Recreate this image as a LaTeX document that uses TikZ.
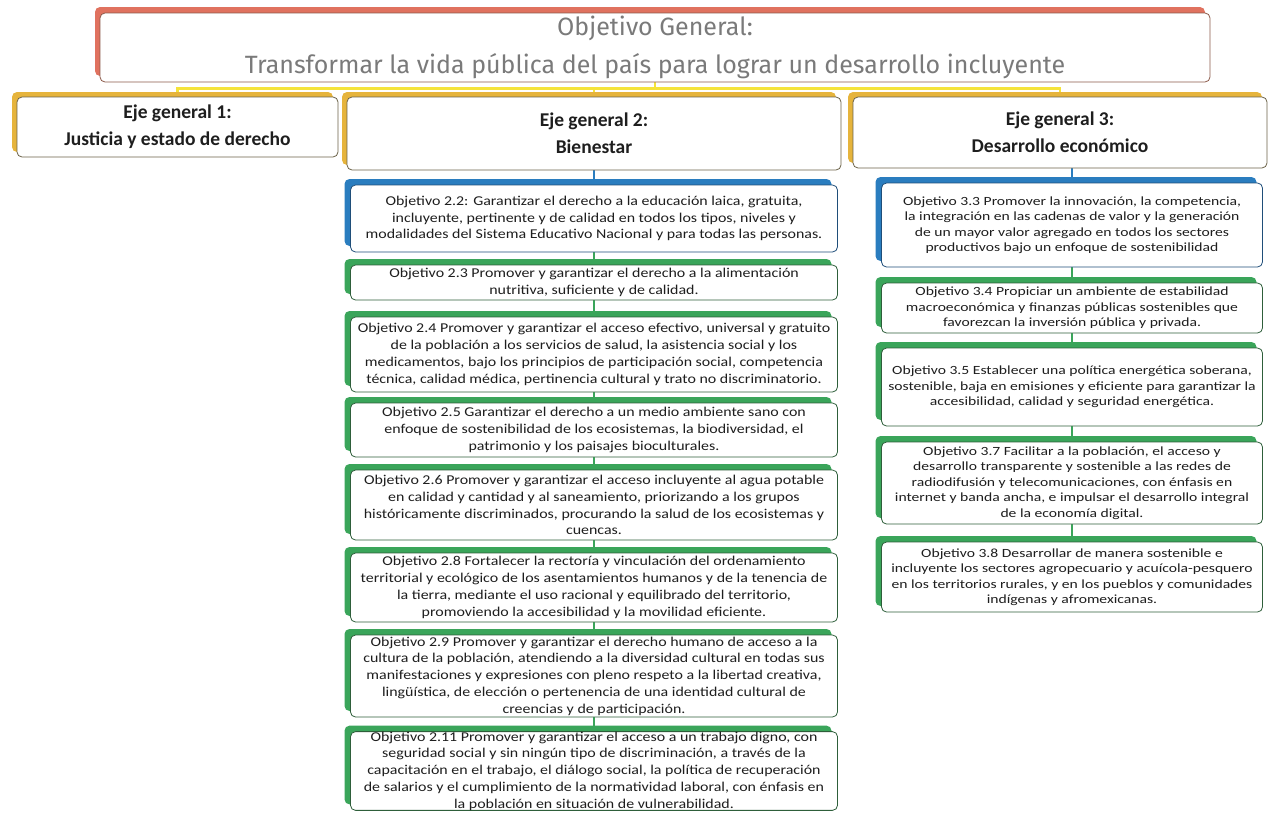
\documentclass[tikz,border=0pt]{standalone}
\usepackage{fontspec}
\setmainfont{Carlito}
\newfontfamily\titlefont{Fira Sans}
\newfontfamily\colfont[FakeStretch=1.18]{Carlito}
\newfontfamily\colwidefont[FakeStretch=1.25]{Carlito}
\usetikzlibrary{shadows, backgrounds}

\definecolor{goalshadow}{HTML}{E0725F}
\definecolor{goalborder}{HTML}{8C5A4A}
\definecolor{axisshadow}{HTML}{E6B43C}
\definecolor{axisborder}{HTML}{6B6248}
\definecolor{blueshadow}{HTML}{2A7DBF}
\definecolor{blueborder}{HTML}{1F4E79}
\definecolor{greenshadow}{HTML}{3AA55A}
\definecolor{greenborder}{HTML}{2E5E3A}
\definecolor{hubyellow}{HTML}{F5E33A}
\definecolor{titlegray}{HTML}{7A7A7A}
\definecolor{txtgray}{HTML}{1E1E1E}

\begin{document}
\begin{tikzpicture}[x=1pt, y=-1pt,
  box/.style={rectangle, rounded corners=5pt, draw, line width=0.8pt, fill=white,
              align=center, inner sep=0pt, text=txtgray},
  goal/.style={box, draw=goalborder, text=titlegray,
               general shadow={fill=goalshadow, shadow xshift=-5pt, shadow yshift=6pt},
               font=\titlefont\fontsize{25}{38}\selectfont},
  axis/.style={box, draw=axisborder,
               general shadow={fill=axisshadow, shadow xshift=-5pt, shadow yshift=5pt},
               font=\bfseries\fontsize{19.5}{27}\selectfont},
  objblue/.style={box, draw=blueborder,
               general shadow={fill=blueshadow, shadow xshift=-6pt, shadow yshift=6pt}},
  objgreen/.style={box, draw=greenborder,
               general shadow={fill=greenshadow, shadow xshift=-6pt, shadow yshift=6pt}},
  colii/.style={minimum width=487pt, font=\colfont\fontsize{13.5}{16.8}\selectfont},
  coliii/.style={minimum width=381pt, font=\colwidefont\fontsize{12.5}{15.5}\selectfont},
  link/.style={line width=1.8pt}
]
\useasboundingbox (0,0) rectangle (1272,814);

% General objective
\node[goal, minimum width=1110pt, minimum height=69pt] (goal) at (655,47.5)
  {Objetivo General:\\ Transformar la vida pública del país para lograr un desarrollo incluyente};

% General axes
\node[axis, minimum width=321pt, minimum height=60pt] (eje1) at (177.5,127)
  {Eje general 1:\\ Justicia y estado de derecho};
\node[axis, minimum width=494pt, minimum height=73pt] (eje2) at (594,133.5)
  {Eje general 2:\\ Bienestar};
\node[axis, minimum width=414pt, minimum height=71pt] (eje3) at (1060,132.5)
  {Eje general 3:\\ Desarrollo económico};

% Axis 2 objectives
\node[objblue, colii, minimum height=67pt] (o22) at (594,218.5)
  {Objetivo 2.2: Garantizar el derecho a la educación laica, gratuita,\\
   incluyente, pertinente y de calidad en todos los tipos, niveles y\\
   modalidades del Sistema Educativo Nacional y para todas las personas.};
\node[objgreen, colii, minimum height=35pt] (o23) at (594,282.5)
  {Objetivo 2.3 Promover y garantizar el derecho a la alimentación\\
   nutritiva, suficiente y de calidad.};
\node[objgreen, colii, minimum height=75pt] (o24) at (594,354.5)
  {Objetivo 2.4 Promover y garantizar el acceso efectivo, universal y gratuito\\
   de la población a los servicios de salud, la asistencia social y los\\
   medicamentos, bajo los principios de participación social, competencia\\
   técnica, calidad médica, pertinencia cultural y trato no discriminatorio.};
\node[objgreen, colii, minimum height=54pt] (o25) at (594,430)
  {Objetivo 2.5 Garantizar el derecho a un medio ambiente sano con\\
   enfoque de sostenibilidad de los ecosistemas, la biodiversidad, el\\
   patrimonio y los paisajes bioculturales.};
\node[objgreen, colii, minimum height=70pt] (o26) at (594,505)
  {Objetivo 2.6 Promover y garantizar el acceso incluyente al agua potable\\
   en calidad y cantidad y al saneamiento, priorizando a los grupos\\
   históricamente discriminados, procurando la salud de los ecosistemas y\\
   cuencas.};
\node[objgreen, colii, minimum height=69pt] (o28) at (594,587.5)
  {Objetivo 2.8 Fortalecer la rectoría y vinculación del ordenamiento\\
   territorial y ecológico de los asentamientos humanos y de la tenencia de\\
   la tierra, mediante el uso racional y equilibrado del territorio,\\
   promoviendo la accesibilidad y la movilidad eficiente.};
\node[objgreen, colii, minimum height=82pt] (o29) at (594,676)
  {Objetivo 2.9 Promover y garantizar el derecho humano de acceso a la\\
   cultura de la población, atendiendo a la diversidad cultural en todas sus\\
   manifestaciones y expresiones con pleno respeto a la libertad creativa,\\
   lingüística, de elección o pertenencia de una identidad cultural de\\
   creencias y de participación.};
\node[objgreen, colii, minimum height=78pt] (o211) at (594,771)
  {Objetivo 2.11 Promover y garantizar el acceso a un trabajo digno, con\\
   seguridad social y sin ningún tipo de discriminación, a través de la\\
   capacitación en el trabajo, el diálogo social, la política de recuperación\\
   de salarios y el cumplimiento de la normatividad laboral, con énfasis en\\
   la población en situación de vulnerabilidad.};

% Axis 3 objectives
\node[objblue, coliii, minimum height=84pt] (o33) at (1072,225)
  {Objetivo 3.3 Promover la innovación, la competencia,\\
   la integración en las cadenas de valor y la generación\\
   de un mayor valor agregado en todos los sectores\\
   productivos bajo un enfoque de sostenibilidad};
\node[objgreen, coliii, minimum height=50pt] (o34) at (1072,308)
  {Objetivo 3.4 Propiciar un ambiente de estabilidad\\
   macroeconómica y finanzas públicas sostenibles que\\
   favorezcan la inversión pública y privada.};
\node[objgreen, coliii, minimum height=78pt] (o35) at (1072,387)
  {Objetivo 3.5 Establecer una política energética soberana,\\
   sostenible, baja en emisiones y eficiente para garantizar la\\
   accesibilidad, calidad y seguridad energética.};
\node[objgreen, coliii, minimum height=82pt] (o37) at (1072,483)
  {Objetivo 3.7 Facilitar a la población, el acceso y\\
   desarrollo transparente y sostenible a las redes de\\
   radiodifusión y telecomunicaciones, con énfasis en\\
   internet y banda ancha, e impulsar el desarrollo integral\\
   de la economía digital.};
\node[objgreen, coliii, minimum height=70pt] (o38) at (1072,577)
  {Objetivo 3.8 Desarrollar de manera sostenible e\\
   incluyente los sectores agropecuario y acuícola-pesquero\\
   en los territorios rurales, y en los pueblos y comunidades\\
   indígenas y afromexicanas.};

% Connectors
\begin{scope}[on background layer]
  \draw[link, hubyellow, line width=2.6pt] (goal.south) -- ++(0,6) coordinate (hub);
  \foreach \e in {eje1, eje2, eje3}
    \draw[link, hubyellow, line width=2.6pt] (hub) -| (\e.north);
  \draw[link, blueshadow] (eje2.south) -- (o22.north);
  \foreach \a/\b in {o22/o23, o23/o24, o24/o25, o25/o26, o26/o28, o28/o29, o29/o211}
    \draw[link, greenshadow] (\a.south) -- (\b.north);
  \draw[link, blueshadow] (o33.north |- eje3.south) -- (o33.north);
  \foreach \a/\b in {o33/o34, o34/o35, o35/o37, o37/o38}
    \draw[link, greenshadow] (\a.south) -- (\b.north);
\end{scope}
\end{tikzpicture}
\end{document}
